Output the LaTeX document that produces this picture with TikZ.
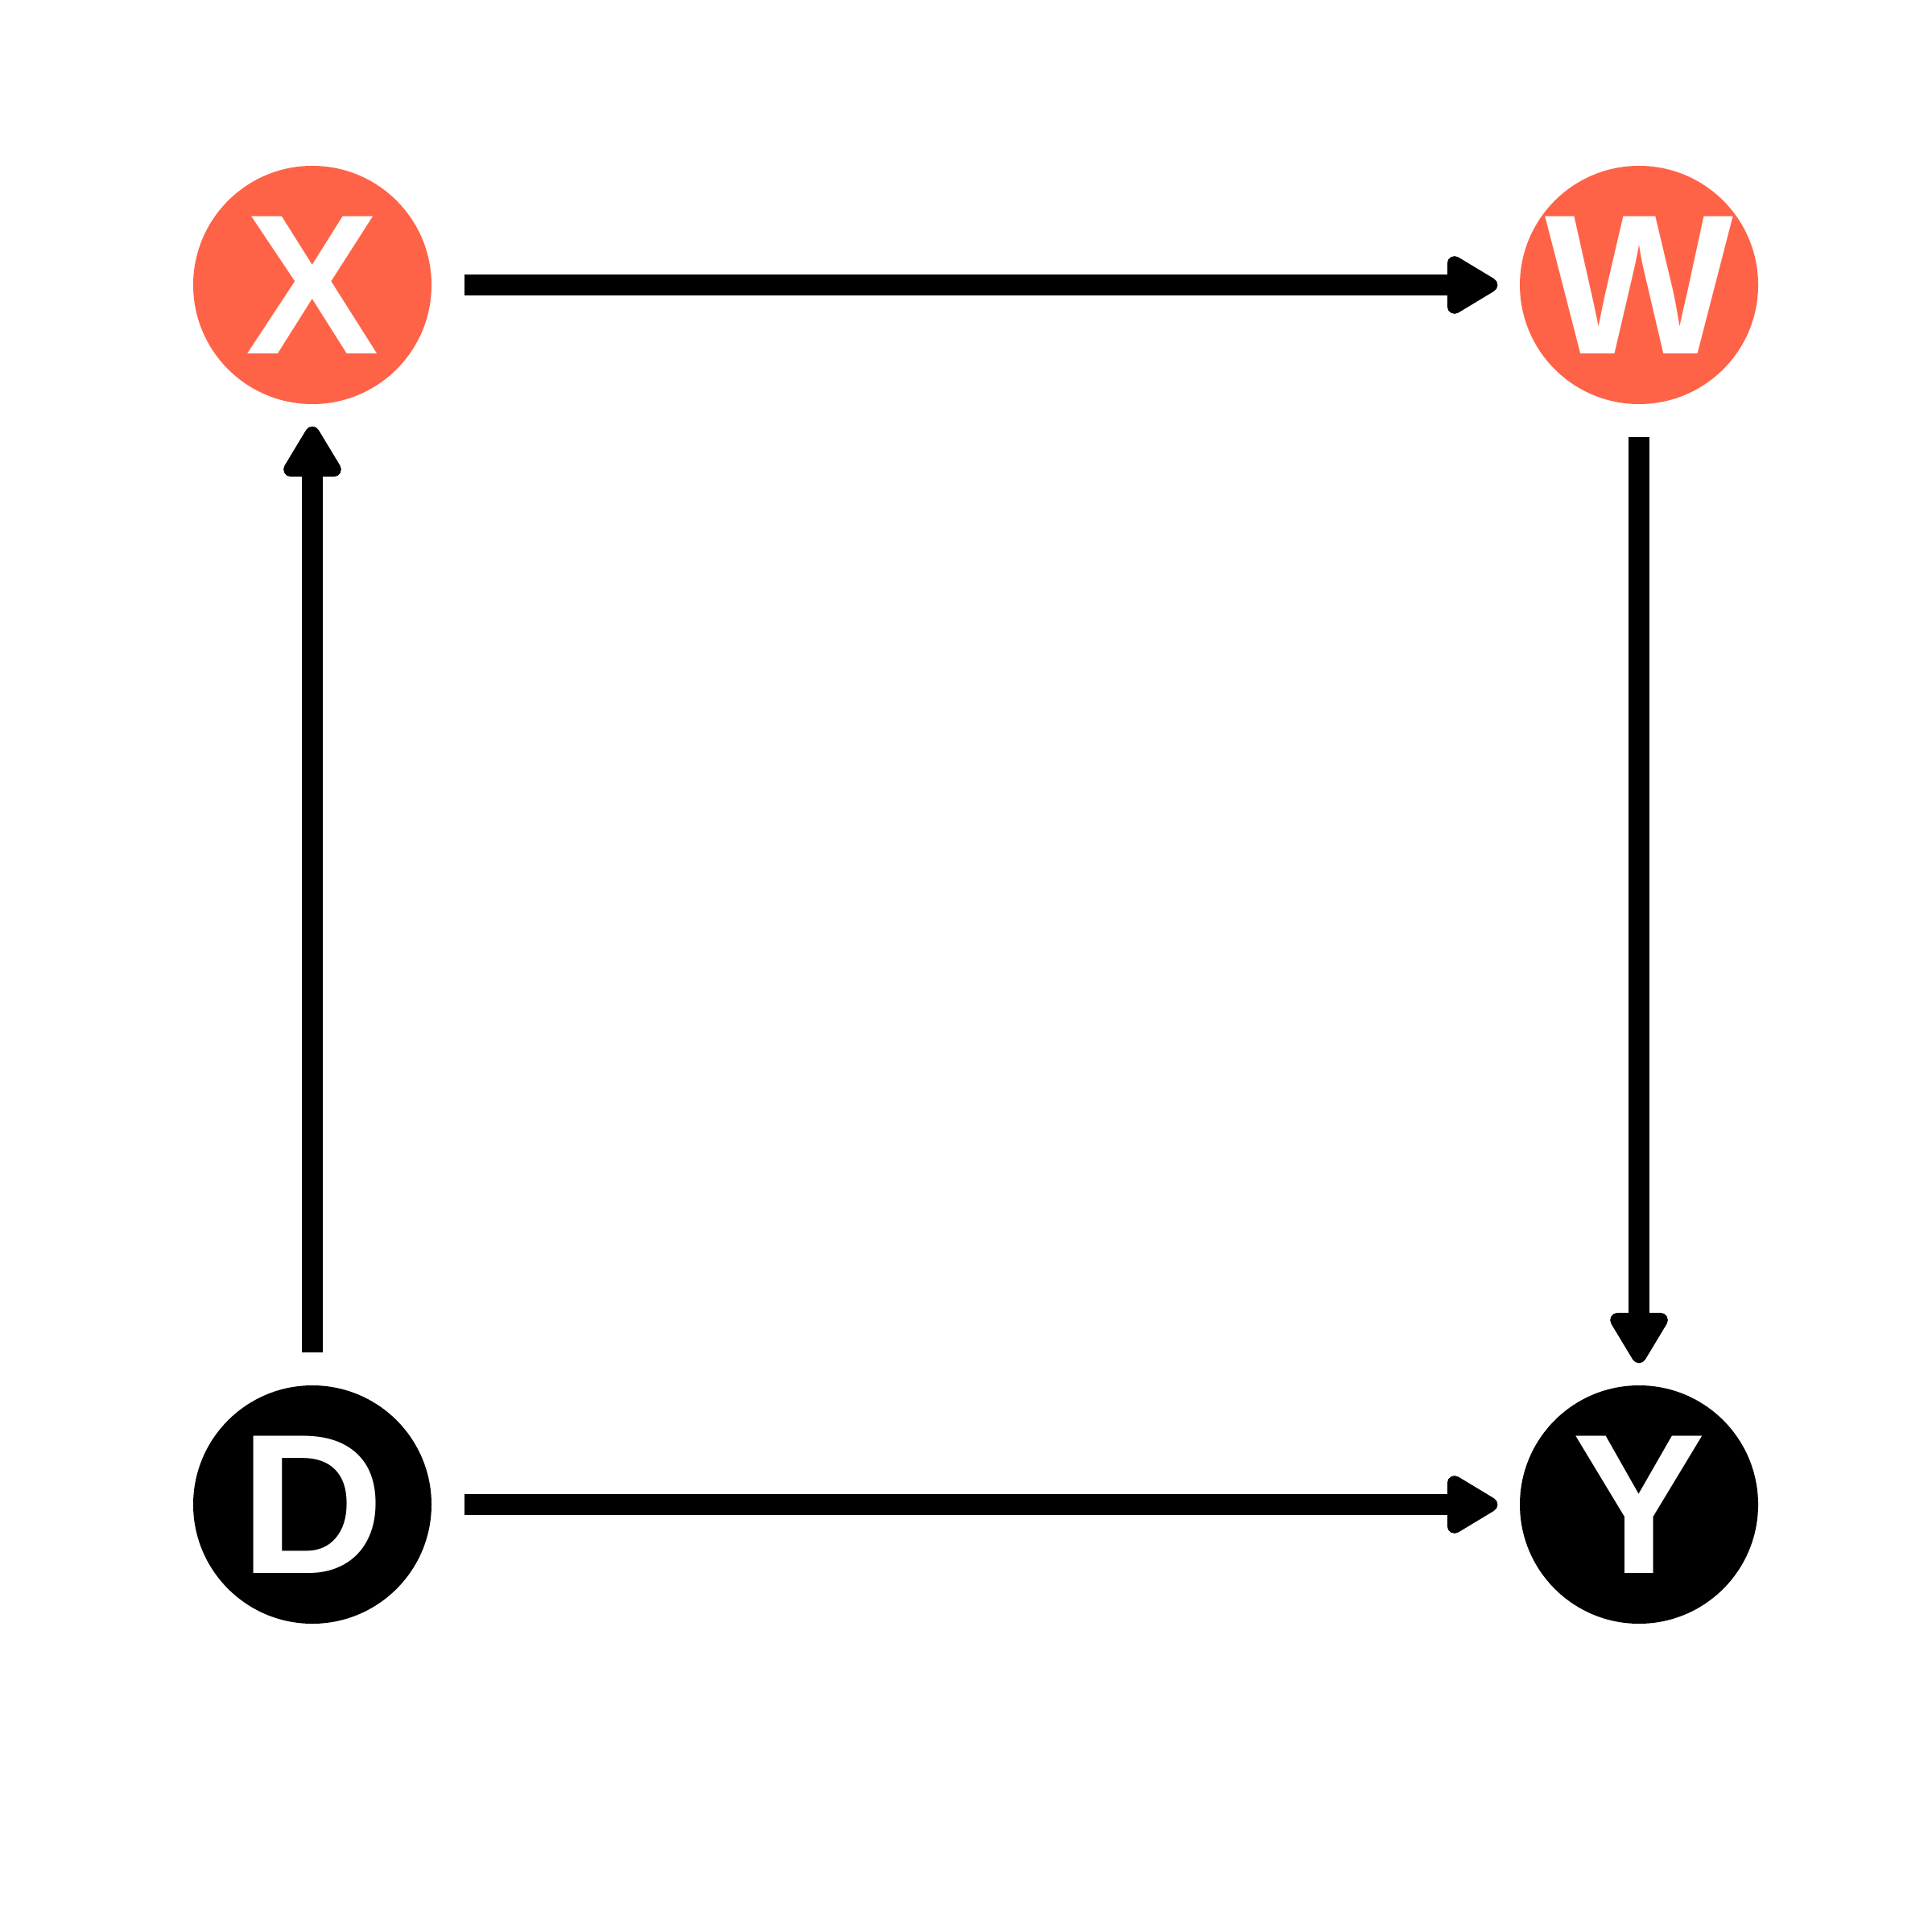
\documentclass[tikz,border=0pt]{standalone}
\usepackage{fontspec}
\setmainfont{Liberation Sans}
\usetikzlibrary{arrows.meta, positioning}
\definecolor{tomatored}{RGB}{255,99,71}

\begin{document}
\begin{tikzpicture}
    % Styles
    \tikzstyle{redvar} = [circle, minimum size=2.96cm, inner sep=0pt, fill=tomatored, text=white, font=\fontsize{70.5}{70.5}\bfseries\selectfont, text height=1.71cm, text depth=0pt]
    \tikzstyle{blackvar} = [redvar, fill=black]
    \tikzstyle{arrow} = [line width=0.26cm, -{Triangle[length=0.72cm,width=0.8cm,round]}, shorten <=0.4cm, shorten >=0.27cm]

    \useasboundingbox (0,0) rectangle (24,-24);

    % Nodes
    \node (x) [redvar] at (3.88,-3.54) {X};
    \node (w) [redvar] at (20.36,-3.54) {W};
    \node (d) [blackvar] at (3.88,-18.69) {D};
    \node (y) [blackvar] at (20.36,-18.69) {Y};

    % Arrows
    \draw [arrow] (x) -- (w);
    \draw [arrow] (w) -- (y);
    \draw [arrow] (d) -- (x);
    \draw [arrow] (d) -- (y);
\end{tikzpicture}
\end{document}
